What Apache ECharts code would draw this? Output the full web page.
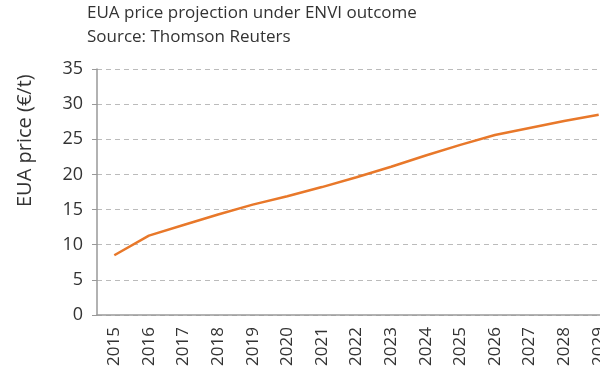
<!DOCTYPE html>
<html>
<head>
<meta charset="utf-8">
<script src="https://cdn.jsdelivr.net/npm/echarts@6/dist/echarts.min.js"></script>
<style>
html, body { margin: 0; padding: 0; background: #fff; overflow: hidden; }
/* the reference is cut off on the right, so the chart is a bit wider than the window */
#chart { width: 616px; height: 376px; }
</style>
</head>
<body>
<div id="chart"></div>
<script>
// 年份 / 价格
var years = ['2015', '2016', '2017', '2018', '2019', '2020', '2021', '2022', '2023', '2024', '2025', '2026', '2027', '2028', '2029'];
var prices = [8.5, 11.3, 12.8, 14.3, 15.7, 16.9, 18.2, 19.6, 21.1, 22.7, 24.2, 25.6, 26.6, 27.6, 28.5];
var yTicks = [0, 5, 10, 15, 20, 25, 30, 35];

var fontName = 'Open Sans';
var myChart = echarts.init(document.getElementById('chart'));
myChart.setOption({
	animation: false,
	title: {
		text: 'EUA price projection under ENVI outcome\nSource: Thomson Reuters',
		left: 82,
		top: -4,
		textStyle: {
			fontFamily: fontName,
			fontSize: 17,
			fontWeight: 'normal',
			color: '#333',
			lineHeight: 24
		}
	},
	grid: {
		left: 97,
		right: 0,
		top: 69,
		bottom: 61,
		containLabel: false
	},
	xAxis: {
		type: 'category',
		data: years,
		boundaryGap: true,
		axisLine: { lineStyle: { color: '#999', width: 1.5 } },
		axisTick: { length: 5, lineStyle: { color: '#999' } },
		axisLabel: {
			rotate: 90,
			margin: 12,
			fontFamily: fontName,
			fontSize: 17,
			color: '#333'
		}
	},
	yAxis: {
		type: 'value',
		min: yTicks[0],
		max: yTicks[yTicks.length - 1],
		interval: 5,
		axisLine: { show: true, lineStyle: { color: '#999', width: 1.5 } },
		axisTick: { show: true, length: 5, lineStyle: { color: '#999' } },
		axisLabel: {
			margin: 14,
			fontFamily: fontName,
			fontSize: 18,
			color: '#333'
		},
		splitLine: {
			show: true,
			lineStyle: { color: '#bbb', type: [5, 4], width: 1 }
		}
	},
	graphic: [{
		type: 'text',
		x: 15,
		y: 207,
		rotation: Math.PI / 2,
		style: {
			text: 'EUA price (€/t)',
			font: '20px "Open Sans"',
			fill: '#333'
		}
	}],
	series: [{
		name: 'EUA price',
		type: 'line',
		data: prices,
		symbol: 'none',
		smooth: false,
		lineStyle: { color: '#E8782A', width: 2.5 }
	}]
});
</script>
</body>
</html>
